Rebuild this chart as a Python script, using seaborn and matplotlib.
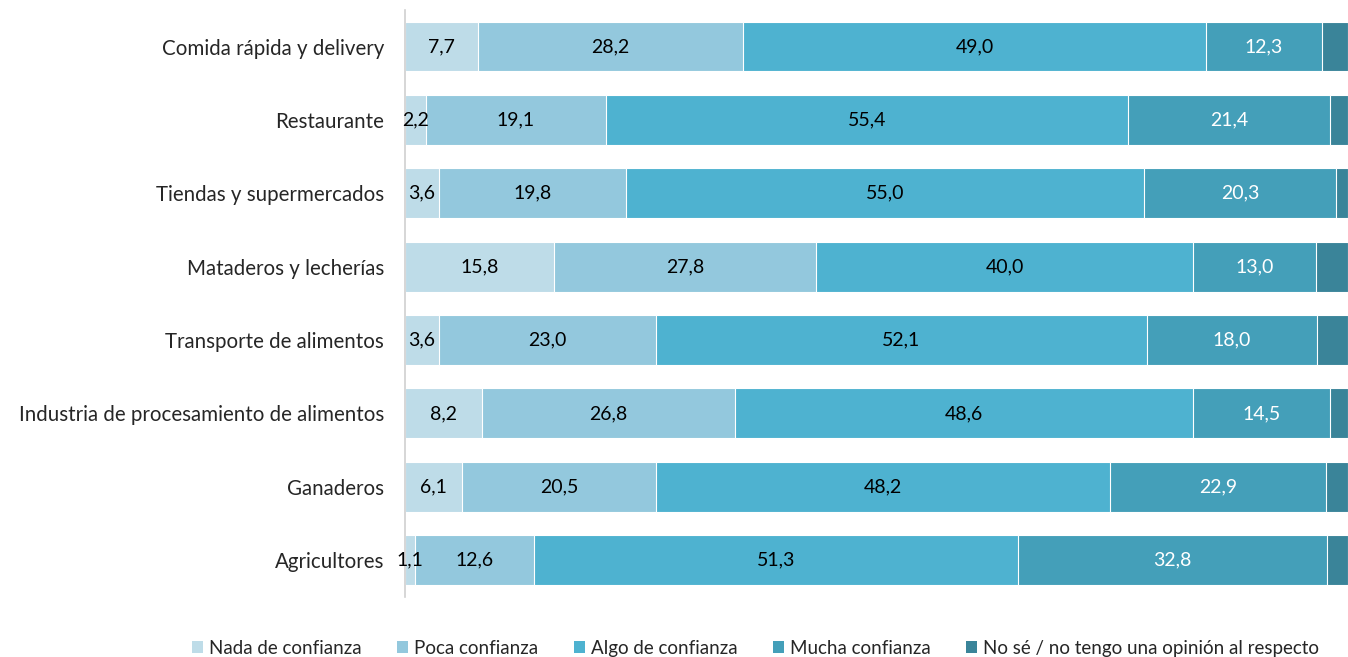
import matplotlib
matplotlib.use("Agg")
import matplotlib.pyplot as plt
import seaborn as sns
import pandas as pd
import numpy as np
from matplotlib.patches import Patch

categories = ["Comida rápida y delivery", "Restaurante", "Tiendas y supermercados",
              "Mataderos y lecherías", "Transporte de alimentos",
              "Industria de procesamiento de alimentos", "Ganaderos", "Agricultores"]
nada = [7.7, 2.2, 3.6, 15.8, 3.6, 8.2, 6.1, 1.1]
poca = [28.2, 19.1, 19.8, 27.8, 23.0, 26.8, 20.5, 12.6]
algo = [49.0, 55.4, 55.0, 40.0, 52.1, 48.6, 48.2, 51.3]
mucha = [12.3, 21.4, 20.3, 13.0, 18.0, 14.5, 22.9, 32.8]
nose = [2.8, 1.9, 1.3, 3.4, 3.3, 1.9, 2.3, 2.2]
series_names = ["Nada de confianza", "Poca confianza", "Algo de confianza",
                "Mucha confianza", "No sé / no tengo una opinión al respecto"]
colors = ["#BEDCE8", "#93C8DD", "#4EB2D0", "#449FB9", "#3A8499"]
label_colors = ["black", "black", "black", "white", None]

sns.set_theme(style="white")
plt.rcParams['font.family'] = ['Lato', 'DejaVu Sans']

fig = plt.figure(figsize=(13.48, 6.57), dpi=100)
ax = fig.add_axes([0.3004, 0.0915, 0.6996, 0.8935])

series = [nada, poca, algo, mucha, nose]
cum = np.cumsum(np.array(series), axis=0)
df_base = pd.DataFrame({"cat": categories})

for i in range(len(series) - 1, -1, -1):
    d = df_base.copy()
    d["val"] = cum[i]
    sns.barplot(data=d, x="val", y="cat", orient="h", color=colors[i],
                saturation=1, width=0.68, edgecolor="white", linewidth=0.8, ax=ax)

for i, s in enumerate(series):
    if label_colors[i] is None:
        continue
    for j, v in enumerate(s):
        center = cum[i][j] - v / 2
        ax.text(center, j, f"{v:.1f}".replace(".", ","), ha="center", va="center",
                fontsize=14, color=label_colors[i])

ax.set_xlim(0, 100)
ax.set_ylim(7.5, -0.5)
ax.set_xlabel("")
ax.set_ylabel("")
ax.set_xticks([])
ax.tick_params(axis="y", length=0, labelsize=14.8, pad=15)
for sp in ["top", "right", "bottom"]:
    ax.spines[sp].set_visible(False)
ax.spines["left"].set_color("#D0D0D0")
ax.spines["left"].set_linewidth(1.2)

handles = [Patch(facecolor=c, edgecolor="none", label=n) for c, n in zip(colors, series_names)]
fig.legend(handles=handles, loc="center", bbox_to_anchor=(0.5605, 0.013), ncol=5,
           frameon=False, fontsize=13.5, handlelength=0.6, handleheight=0.6,
           handletextpad=0.3, columnspacing=1.9)

fig.savefig("out.png", dpi=100)
